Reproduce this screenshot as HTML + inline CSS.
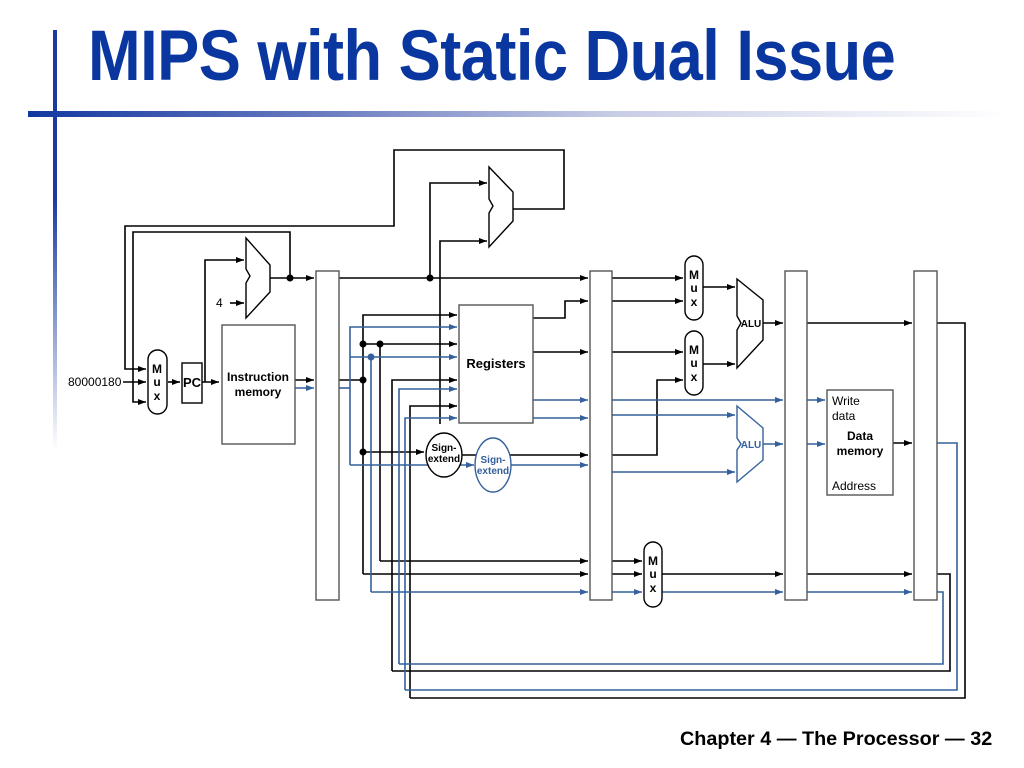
<!DOCTYPE html>
<html><head><meta charset="utf-8"><style>
body{margin:0;width:1024px;height:768px;background:#fff;overflow:hidden;position:relative;font-family:"Liberation Sans",sans-serif}
.t{position:absolute;left:88px;top:21px;font-size:71px;line-height:1;font-weight:bold;color:#0a36a0;letter-spacing:-0.6px;white-space:nowrap;transform:scaleX(0.89);transform-origin:left top}
.f{position:absolute;left:680px;top:728px;font-size:19.8px;font-weight:bold;color:#000;white-space:nowrap}
</style></head><body>
<div style="position:absolute;left:53px;top:30px;width:4px;height:420px;background:linear-gradient(#1a3aa0,#1a3aa0 40%,#fff)"></div>
<div style="position:absolute;left:28px;top:111px;width:980px;height:6px;background:linear-gradient(90deg,#1238a0,#6a7cc0 30%,#c8cde6 60%,#fff)"></div>
<div class="t">MIPS with Static Dual Issue</div>
<svg width="1024" height="768" style="position:absolute;left:0;top:0" font-family="Liberation Sans,sans-serif">
<defs>
<marker id="a" markerWidth="8" markerHeight="6" refX="8" refY="3" orient="auto" markerUnits="userSpaceOnUse"><path d="M0,0L8,3L0,6z" fill="#000"/></marker>
<marker id="b" markerWidth="8" markerHeight="6" refX="8" refY="3" orient="auto" markerUnits="userSpaceOnUse"><path d="M0,0L8,3L0,6z" fill="#34609c"/></marker>
</defs>
<g fill="none" stroke="#000" stroke-width="1.6">
<path d="M513,209H564V150H394V226H125V369H146" marker-end="url(#a)"/>
<path d="M290,278V232H133V402H146" marker-end="url(#a)"/>
<path d="M123,382H146" marker-end="url(#a)"/>
<path d="M168,382H180" marker-end="url(#a)"/>
<path d="M202,382H219" marker-end="url(#a)"/>
<path d="M205,382V260H244" marker-end="url(#a)"/>
<path d="M230,303H244" marker-end="url(#a)"/>
<path d="M270,278H314" marker-end="url(#a)"/>
<path d="M295,380H314" marker-end="url(#a)"/>
<path d="M339,278H588" marker-end="url(#a)"/>
<path d="M430,278V183H487" marker-end="url(#a)"/>
<path d="M440,424V241H487" marker-end="url(#a)"/>
<path d="M339,380H363"/>
<path d="M363,574V315H457" marker-end="url(#a)"/>
<path d="M363,344H457" marker-end="url(#a)"/>
<path d="M380,561V344"/>
<path d="M363,452H424" marker-end="url(#a)"/>
<path d="M392,671V380H457" marker-end="url(#a)"/>
<path d="M410,698V406H457" marker-end="url(#a)"/>
<path d="M533,318H565V301H588" marker-end="url(#a)"/>
<path d="M533,352H588" marker-end="url(#a)"/>
<path d="M462,455H588" marker-end="url(#a)"/>
<path d="M380,561H588" marker-end="url(#a)"/>
<path d="M363,574H588" marker-end="url(#a)"/>
<path d="M612,278H683" marker-end="url(#a)"/>
<path d="M612,301H683" marker-end="url(#a)"/>
<path d="M612,352H683" marker-end="url(#a)"/>
<path d="M612,455H657V380H683" marker-end="url(#a)"/>
<path d="M703,287H735" marker-end="url(#a)"/>
<path d="M703,364H735" marker-end="url(#a)"/>
<path d="M763,323H783" marker-end="url(#a)"/>
<path d="M807,323H912" marker-end="url(#a)"/>
<path d="M893,443H912" marker-end="url(#a)"/>
<path d="M612,561H642" marker-end="url(#a)"/>
<path d="M612,574H642" marker-end="url(#a)"/>
<path d="M662,574H783" marker-end="url(#a)"/>
<path d="M807,574H912" marker-end="url(#a)"/>
<path d="M937,574H950V671H392"/>
<path d="M937,323H965V698H410"/>
</g>
<g fill="none" stroke="#34609c" stroke-width="1.6">
<path d="M295,388H314" marker-end="url(#b)"/>
<path d="M339,388H350"/>
<path d="M350,465V327H457" marker-end="url(#b)"/>
<path d="M350,357H457" marker-end="url(#b)"/>
<path d="M371,592V357"/>
<path d="M350,465H474" marker-end="url(#b)"/>
<path d="M399,664V389H457" marker-end="url(#b)"/>
<path d="M405,690V418H457" marker-end="url(#b)"/>
<path d="M533,400H588" marker-end="url(#b)"/>
<path d="M533,418H588" marker-end="url(#b)"/>
<path d="M511,465H588" marker-end="url(#b)"/>
<path d="M371,592H588" marker-end="url(#b)"/>
<path d="M612,400H783" marker-end="url(#b)"/>
<path d="M612,415H735" marker-end="url(#b)"/>
<path d="M612,472H735" marker-end="url(#b)"/>
<path d="M763,444H783" marker-end="url(#b)"/>
<path d="M807,400H825" marker-end="url(#b)"/>
<path d="M807,444H825" marker-end="url(#b)"/>
<path d="M612,592H642" marker-end="url(#b)"/>
<path d="M662,592H783" marker-end="url(#b)"/>
<path d="M807,592H912" marker-end="url(#b)"/>
<path d="M937,592H943V664H399"/>
<path d="M937,443H957V690H405"/>
</g>
<g fill="#000"><circle cx="290" cy="278" r="3.5"/><circle cx="430" cy="278" r="3.5"/><circle cx="363" cy="380" r="3.5"/><circle cx="363" cy="344" r="3.5"/><circle cx="380" cy="344" r="3.5"/><circle cx="363" cy="452" r="3.5"/></g>
<circle cx="371" cy="357" r="3.5" fill="#34609c"/>
<g fill="#fff" stroke="#555" stroke-width="1.4">
<rect x="316" y="271" width="23" height="329"/>
<rect x="590" y="271" width="22" height="329"/>
<rect x="785" y="271" width="22" height="329"/>
<rect x="914" y="271" width="23" height="329"/>
<rect x="222" y="325" width="73" height="119"/>
<rect x="459" y="305" width="74" height="118"/>
<rect x="827" y="390" width="66" height="105"/>
</g>
<g fill="#fff" stroke="#000" stroke-width="1.4">
<rect x="148" y="350" width="19" height="64" rx="9.5"/>
<rect x="182" y="363" width="20" height="40"/>
<rect x="685" y="256" width="18" height="64" rx="9"/>
<rect x="685" y="331" width="18" height="64" rx="9"/>
<rect x="644" y="542" width="18" height="65" rx="9"/>
<path d="M246,238L270,265V292L246,318V283L250,276L246,269Z"/>
<path d="M489,167L513,192V221L489,247V213L493,206L489,199Z"/>
<path d="M737,279L763,300V340L737,368V330L741,323L737,316Z"/>
<ellipse cx="444" cy="455" rx="18" ry="22"/>
</g>
<path d="M737,406L763,428V460L737,482V450L741,444L737,438Z" fill="#fff" stroke="#34609c" stroke-width="1.4"/>
<ellipse cx="493" cy="465" rx="18" ry="27" fill="#fff" stroke="#34609c" stroke-width="1.4"/>
<g font-weight="bold" font-size="12" text-anchor="middle">
<text x="157" y="373">M</text><text x="157" y="386">u</text><text x="157" y="400">x</text>
<text x="694" y="279">M</text><text x="694" y="292">u</text><text x="694" y="306">x</text>
<text x="694" y="354">M</text><text x="694" y="367">u</text><text x="694" y="381">x</text>
<text x="653" y="565">M</text><text x="653" y="578">u</text><text x="653" y="592">x</text>
<text x="192" y="387" font-size="13">PC</text>
<text x="258" y="381" font-size="12">Instruction</text><text x="258" y="396" font-size="12">memory</text>
<text x="496" y="368" font-size="13">Registers</text>
<text x="860" y="440" font-size="12">Data</text><text x="860" y="455" font-size="12">memory</text>
<text x="751" y="327" font-size="10">ALU</text>
<text x="751" y="448" font-size="10" fill="#34609c">ALU</text>
<text x="444" y="451" font-size="10">Sign-</text><text x="444" y="462" font-size="10">extend</text>
<text x="493" y="463" font-size="10" fill="#34609c">Sign-</text><text x="493" y="474" font-size="10" fill="#34609c">extend</text>
</g>
<g font-size="12">
<text x="68" y="386">80000180</text>
<text x="216" y="307">4</text>
<text x="832" y="405">Write</text><text x="832" y="420">data</text>
<text x="832" y="490">Address</text>
</g>
</svg>
<div class="f">Chapter 4 — The Processor — 32</div>
</body></html>
